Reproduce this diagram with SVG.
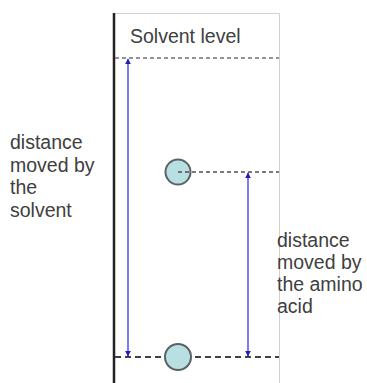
<svg xmlns="http://www.w3.org/2000/svg" width="367" height="383" viewBox="0 0 367 383">
<style>
.lbl{font-family:"Liberation Sans",Arial,sans-serif;font-size:19.5px;fill:#404040}
.arr{stroke:#5a5af0;stroke-width:1.6;fill:none}
.frame{stroke:#d0d0d0;stroke-width:1;fill:none}
.spot{fill:#b8dfe2;stroke:#5a6266;stroke-width:2}
</style>
<defs>
<marker id="ah" viewBox="0 0 10 10" refX="9" refY="5" markerWidth="6" markerHeight="6" orient="auto-start-reverse" markerUnits="userSpaceOnUse">
<path d="M0,0 L10,5 L0,10 z" fill="#1c1cc0"/>
</marker>
</defs>
<rect width="367" height="383" fill="#ffffff"/>
<g id="plate">
<path class="frame" d="M114,13.5 H279.5 V383"/>
<line x1="114" y1="13" x2="114" y2="383" stroke="#222" stroke-width="2.5"/>
</g>
<g id="connectors">
<line x1="115" y1="58" x2="279" y2="58" stroke="#707070" stroke-width="1.5" stroke-dasharray="4,3"/>
<line x1="178" y1="172" x2="279" y2="172" stroke="#5a4a4a" stroke-width="1.5" stroke-dasharray="4,3"/>
<line x1="115" y1="357" x2="279" y2="357" stroke="#404040" stroke-width="2" stroke-dasharray="6,4"/>
<line class="arr" x1="128" y1="59" x2="128" y2="356" marker-start="url(#ah)" marker-end="url(#ah)"/>
<line class="arr" x1="248" y1="173" x2="248" y2="356" marker-start="url(#ah)" marker-end="url(#ah)"/>
</g>
<g id="amino-acid-spot">
<circle class="spot" cx="178" cy="172" r="12.5"/>
<line x1="178" y1="172" x2="191" y2="172" stroke="#5a4a4a" stroke-width="1.5" stroke-dasharray="4,3"/>
</g>
<g id="origin-spot">
<circle class="spot" cx="178" cy="357" r="13"/>
</g>
<g id="solvent-level-label">
<text class="lbl" x="130" y="43">Solvent level</text>
</g>
<g id="solvent-distance-label">
<text class="lbl" x="10" y="149">distance</text>
<text class="lbl" x="10" y="171.5">moved by</text>
<text class="lbl" x="10" y="194">the</text>
<text class="lbl" x="10" y="216.5">solvent</text>
</g>
<g id="amino-distance-label">
<text class="lbl" x="277" y="247">distance</text>
<text class="lbl" x="277" y="269">moved by</text>
<text class="lbl" x="277" y="291">the amino</text>
<text class="lbl" x="277" y="313">acid</text>
</g>
</svg>
